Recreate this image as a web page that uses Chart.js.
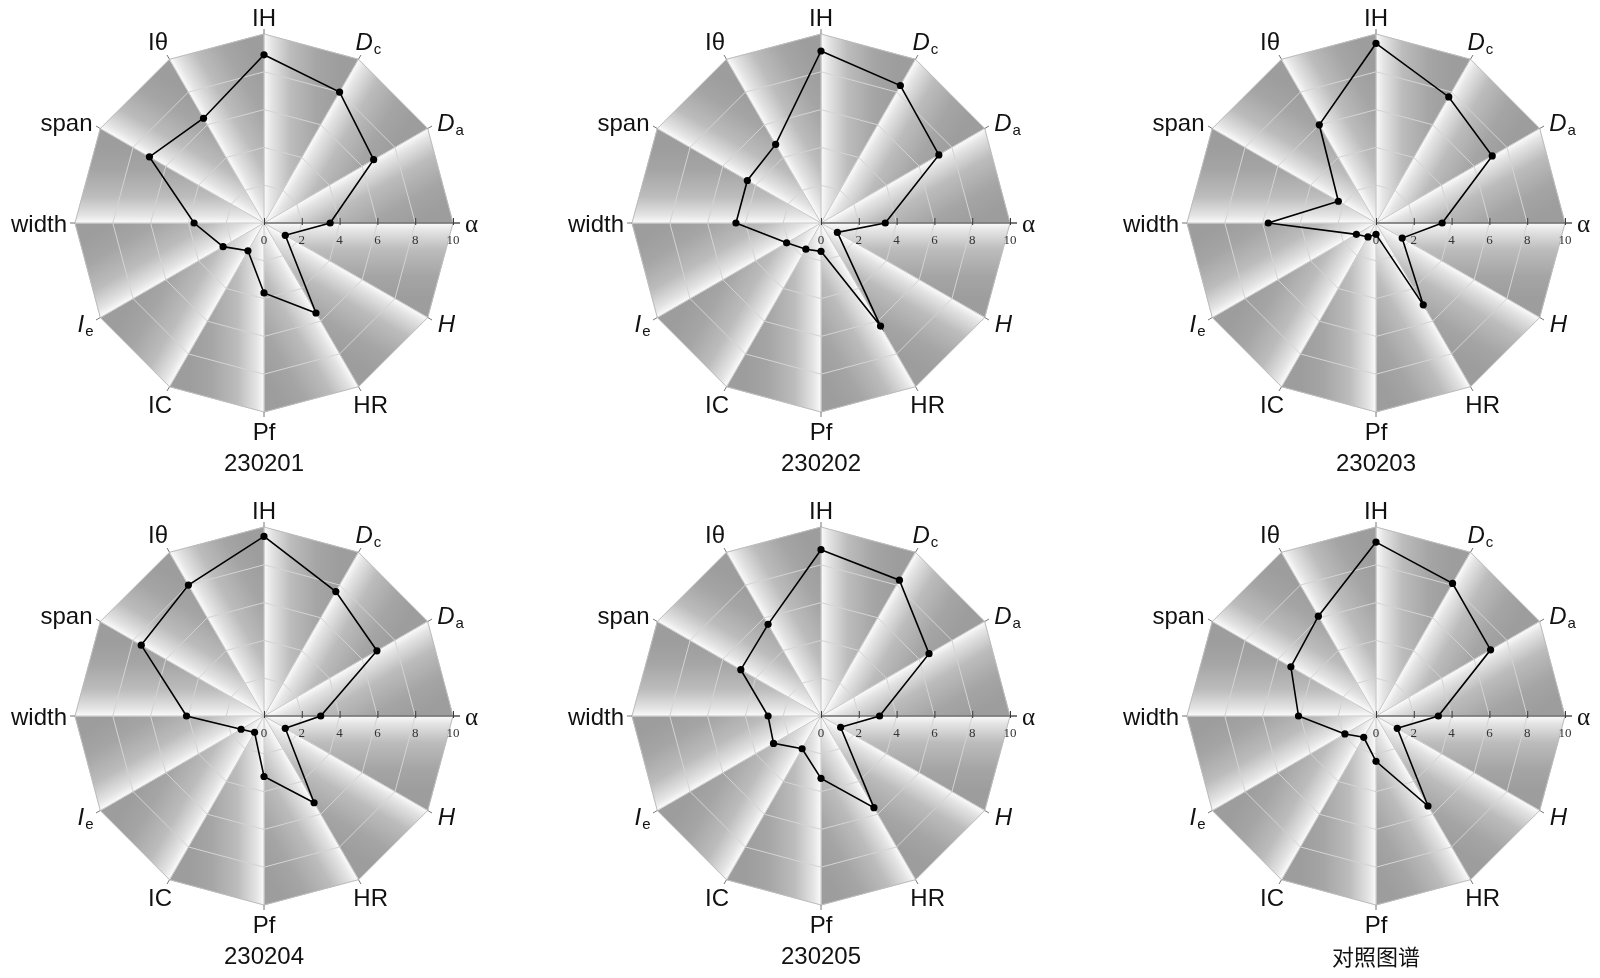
<!DOCTYPE html>
<html><head><meta charset="utf-8">
<script src="https://cdn.jsdelivr.net/npm/chart.js@4.4.0/dist/chart.umd.min.js"></script>
<style>
html,body{margin:0;padding:0;background:#fff;width:1600px;height:978px;overflow:hidden;position:relative}
canvas{position:absolute}
</style></head><body>
<script>
// ---------- data ----------
const categories = ['IH','Dc','Da','α','H','HR','Pf','IC','Ie','width','span','Iθ'];
const tickValues = [0, 2, 4, 6, 8, 10];
const titles = ['230201','230202','230203','230204','230205','对照图谱'];
const s230201 = [8.9, 8.0, 6.7, 3.5, 1.3, 5.5, 3.7, 1.7, 2.5, 3.7, 7.0, 6.4];
const s230202 = [9.1, 8.4, 7.2, 3.4, 1.0, 6.3, 1.5, 1.6, 2.1, 4.5, 4.5, 4.8];
const s230203 = [9.5, 7.7, 7.1, 3.5, 1.6, 5.0, 0.6, 0.85, 1.2, 5.7, 2.3, 6.0];
const s230204 = [9.5, 7.6, 6.9, 3.0, 1.3, 5.3, 3.2, 1.0, 1.4, 4.1, 7.5, 8.0];
const s230205 = [8.8, 8.3, 6.6, 3.1, 1.2, 5.6, 3.3, 2.0, 2.9, 2.8, 4.9, 5.6];
const sReference = [9.2, 8.1, 7.0, 3.3, 1.3, 5.5, 2.4, 1.3, 1.9, 4.1, 5.2, 6.1];
const seriesList = [s230201, s230202, s230203, s230204, s230205, sReference];

// ---------- layout ----------
const centers = [[264,223],[821,223],[1376,223],[264,716],[821,716],[1376,716]];
const CW = 520, CH = 489, RAD = 189;
const PAD = {left: CW/2 - RAD, right: CW/2 - RAD, top: 223 - RAD, bottom: CH - (223 - RAD) - 2*RAD};
const ALPHA_INDEX = categories.indexOf('α');

const richLabels = {
  'Dc': [{t:'D', st:'italic'}, {t:'c', st:'sub'}],
  'Da': [{t:'D', st:'italic'}, {t:'a', st:'sub'}],
  'Ie': [{t:'I', st:'italic'}, {t:'e', st:'sub'}],
  'H':  [{t:'H', st:'italic'}],
  'α':  [{t:'α', st:'serif'}]
};
function partsFor(lbl){ return richLabels[lbl] || [{t:lbl, st:'normal'}]; }
function fontFor(st){
  switch(st){
    case 'italic': return 'italic 24px "Liberation Sans"';
    case 'sub': return '15px "Liberation Sans"';
    case 'serif': return '25px "Liberation Serif"';
    default: return '24px "Liberation Sans"';
  }
}

const wedgePlugin = {
  id: 'wedges',
  beforeDraw(chart){
    const sc = chart.scales.r, ctx = chart.ctx;
    const cx = sc.xCenter, cy = sc.yCenter, r = sc.drawingArea;
    const n = chart.data.labels.length;
    ctx.save();
    for (let i = 0; i < n; i++){
      const a = sc.getPointPosition(i, r), b = sc.getPointPosition((i+1) % n, r);
      const ux = (a.x-cx)/r, uy = (a.y-cy)/r;
      let nx = -uy, ny = ux;
      if ((b.x-cx)*nx + (b.y-cy)*ny < 0){ nx = -nx; ny = -ny; }
      const dist = (b.x-cx)*nx + (b.y-cy)*ny;
      const L = dist * 0.8;
      const g = ctx.createLinearGradient(cx, cy, cx + nx*L, cy + ny*L);
      g.addColorStop(0, '#fbfbfb');
      g.addColorStop(0.1, '#e4e4e4');
      g.addColorStop(0.35, '#bcbcbc');
      g.addColorStop(0.7, '#a5a5a5');
      g.addColorStop(1, '#9d9d9d');
      ctx.beginPath();
      ctx.moveTo(cx, cy); ctx.lineTo(a.x, a.y); ctx.lineTo(b.x, b.y); ctx.closePath();
      ctx.fillStyle = g; ctx.fill();
      ctx.strokeStyle = g; ctx.lineWidth = 0.6; ctx.stroke();
    }
    ctx.restore();
  },
  beforeDatasetsDraw(chart){
    const sc = chart.scales.r, ctx = chart.ctx;
    const cx = sc.xCenter, cy = sc.yCenter, r = sc.drawingArea;
    const n = chart.data.labels.length;
    ctx.save();
    for (let i = 0; i < n; i++){
      const v = sc.getPointPosition(i, r), e = sc.getPointPosition(i, r + (i === ALPHA_INDEX ? 7 : 5));
      ctx.beginPath(); ctx.moveTo(v.x, v.y); ctx.lineTo(e.x, e.y);
      ctx.strokeStyle = '#777'; ctx.lineWidth = 1; ctx.stroke();
    }
    const end = sc.getPointPosition(ALPHA_INDEX, r + 7);
    ctx.beginPath(); ctx.moveTo(cx, cy); ctx.lineTo(end.x, end.y);
    ctx.strokeStyle = '#3a3a3a'; ctx.lineWidth = 1; ctx.stroke();
    ctx.font = '13px "Liberation Serif"';
    ctx.fillStyle = '#333'; ctx.textAlign = 'center'; ctx.textBaseline = 'middle';
    tickValues.forEach(v => {
      const p = sc.getPointPositionForValue(ALPHA_INDEX, v);
      ctx.beginPath(); ctx.moveTo(p.x + 0.5, p.y - 5); ctx.lineTo(p.x + 0.5, p.y + 2);
      ctx.strokeStyle = '#3a3a3a'; ctx.stroke();
      ctx.fillText(String(v), p.x, p.y + 18);
    });
    ctx.restore();
  },
  afterDraw(chart){
    const sc = chart.scales.r, ctx = chart.ctx;
    const cx = sc.xCenter, cy = sc.yCenter, r = sc.drawingArea;
    const n = chart.data.labels.length;
    ctx.save();
    ctx.fillStyle = '#111';
    ctx.textAlign = 'left'; ctx.textBaseline = 'alphabetic';
    const capH = 17;
    for (let i = 0; i < n; i++){
      const parts = partsFor(chart.data.labels[i]);
      let w = 0;
      parts.forEach(p => { ctx.font = fontFor(p.st); p.w = ctx.measureText(p.t).width; w += p.w + (p.st === 'italic' ? 1 : 0); });
      const v = sc.getPointPosition(i, r);
      const ux = (v.x - cx)/r, uy = (v.y - cy)/r;
      const ax = Math.abs(ux), ay = Math.abs(uy);
      let offX, offY;
      if (i === ALPHA_INDEX){ offX = ux*(12 + w/2); offY = 0; }
      else if (ay < 0.1){ offX = ux*(8 + w/2); offY = 0; }
      else if (ay > 0.95){ offX = 0; offY = uy*(17 + (uy > 0 ? 2 : 0)); }
      else if (ay > 0.8){ offX = ux*(7 + w/2) + (ux < 0 && uy < 0 ? -3 : 0); offY = uy*21; }
      else { offX = ux*((ux < 0 && uy > 0 ? 9 : 13) + w/2); offY = uy*12; }
      const tx = v.x + offX, ty = v.y + offY;
      let x = tx - w/2; const base = ty + capH/2;
      parts.forEach(p => {
        ctx.font = fontFor(p.st);
        ctx.fillText(p.t, x, p.st === 'sub' ? base + 4 : base);
        x += p.w + (p.st === 'italic' ? 1 : 0);
      });
    }
    const title = chart.options.plugins.wedges.title;
    ctx.font = /[\u4e00-\u9fff]/.test(title) ? '22px "Noto Sans CJK SC"' : '24px "Liberation Sans"';
    ctx.textAlign = 'center'; ctx.textBaseline = 'middle';
    ctx.fillStyle = '#111';
    ctx.fillText(title, cx, cy + 241);
    ctx.restore();
  }
};

seriesList.forEach((data, k) => {
  const cv = document.createElement('canvas');
  cv.width = CW; cv.height = CH;
  cv.style.width = CW + 'px'; cv.style.height = CH + 'px';
  cv.style.left = (centers[k][0] - CW/2) + 'px';
  cv.style.top = (centers[k][1] - 223) + 'px';
  document.body.appendChild(cv);
  new Chart(cv, {
    type: 'radar',
    data: {
      labels: categories,
      datasets: [{
        label: titles[k],
        data: data,
        borderColor: '#000',
        borderWidth: 1.6,
        pointRadius: 3.6,
        pointBackgroundColor: '#000',
        pointBorderColor: '#000',
        pointBorderWidth: 0,
        fill: false,
        tension: 0
      }]
    },
    options: {
      responsive: false,
      animation: false,
      devicePixelRatio: 1,
      layout: {padding: PAD},
      plugins: {legend: {display: false}, tooltip: {enabled: false}, wedges: {title: titles[k]}},
      scales: {
        r: {
          min: 0, max: 10,
          ticks: {stepSize: 2, display: false},
          pointLabels: {display: false},
          grid: {color: c => (c.tick && c.tick.value === 10) ? '#bcbcbc' : '#d4d4d4', lineWidth: 1},
          angleLines: {color: '#c6c6c6', lineWidth: 1}
        }
      }
    },
    plugins: [wedgePlugin]
  });
});
</script>
</body></html>
